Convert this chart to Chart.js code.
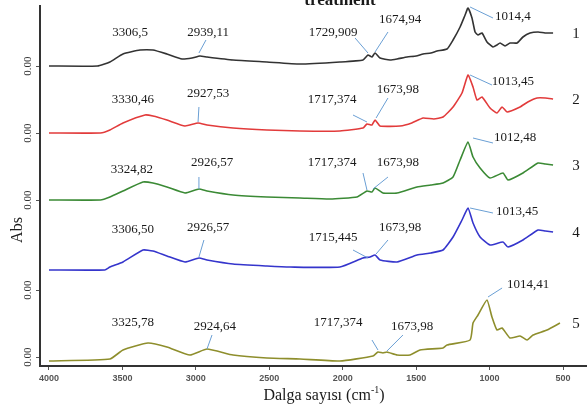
<!DOCTYPE html>
<html>
<head>
<meta charset="utf-8">
<script src="https://cdn.jsdelivr.net/npm/chart.js@4"></script>
<style>
  html, body { margin: 0; padding: 0; background: #fff; }
  canvas { display: block; }
</style>
</head>
<body>
<canvas id="ftirChart" width="587" height="405"></canvas>
<script>
// wavenumbers (cm-1) and absorbance above each trace's own baseline
const wn1 = [4000, 3670, 3585, 3496, 3380, 3292, 3197, 3094, 3026, 2972, 2924, 2747, 2516, 2291, 2019, 1862, 1828, 1801, 1780, 1746, 1678, 1630, 1562, 1500, 1453, 1400, 1358, 1290, 1249, 1201, 1167, 1147, 1120, 1099, 1079, 1052, 1018, 977, 950, 929, 895, 861, 813, 773, 725, 670, 623, 568];
const abs1 = [0, 0, 0.04, 0.12, 0.16, 0.16, 0.12, 0.07, 0.08, 0.10, 0.09, 0.06, 0.04, 0.02, 0.04, 0.06, 0.11, 0.09, 0.13, 0.08, 0.06, 0.07, 0.09, 0.10, 0.12, 0.13, 0.15, 0.17, 0.26, 0.39, 0.51, 0.58, 0.48, 0.34, 0.31, 0.33, 0.24, 0.19, 0.21, 0.23, 0.20, 0.23, 0.23, 0.29, 0.33, 0.34, 0.33, 0.33];

const wn2 = [4000, 3650, 3585, 3496, 3346, 3292, 3197, 3074, 2985, 2924, 2747, 2516, 2291, 2019, 1862, 1835, 1801, 1780, 1746, 1610, 1530, 1453, 1380, 1317, 1249, 1188, 1147, 1113, 1086, 1052, 997, 950, 915, 881, 793, 740, 677, 620, 568];
const abs2 = [0, 0, 0.03, 0.10, 0.18, 0.17, 0.13, 0.07, 0.10, 0.08, 0.05, 0.03, 0.02, 0.02, 0.05, 0.09, 0.08, 0.13, 0.07, 0.07, 0.10, 0.15, 0.14, 0.16, 0.26, 0.40, 0.58, 0.46, 0.33, 0.36, 0.25, 0.20, 0.26, 0.21, 0.26, 0.31, 0.35, 0.35, 0.34];

const wn3 = [4000, 3650, 3585, 3496, 3360, 3292, 3197, 3074, 2979, 2924, 2747, 2516, 2291, 2087, 1903, 1835, 1801, 1780, 1726, 1630, 1494, 1400, 1317, 1249, 1201, 1147, 1113, 1065, 997, 909, 875, 773, 670, 620, 568];
const abs3 = [0, 0, 0.03, 0.09, 0.18, 0.17, 0.13, 0.07, 0.11, 0.09, 0.05, 0.03, 0.02, 0.01, 0.03, 0.09, 0.08, 0.12, 0.07, 0.07, 0.13, 0.15, 0.17, 0.23, 0.40, 0.58, 0.43, 0.32, 0.22, 0.27, 0.20, 0.27, 0.37, 0.36, 0.35];

const wn4 = [4000, 3620, 3585, 3496, 3360, 3292, 3197, 3074, 2979, 2924, 2747, 2516, 2359, 2019, 1862, 1814, 1780, 1746, 1630, 1494, 1400, 1317, 1249, 1188, 1147, 1113, 1065, 997, 909, 875, 773, 670, 620, 568];
const abs4 = [0, 0, 0.03, 0.08, 0.20, 0.19, 0.14, 0.08, 0.12, 0.10, 0.06, 0.04, 0.03, 0.03, 0.12, 0.13, 0.15, 0.10, 0.08, 0.15, 0.17, 0.20, 0.33, 0.50, 0.62, 0.47, 0.33, 0.25, 0.28, 0.23, 0.30, 0.40, 0.39, 0.38];

const wn5 = [4000, 3585, 3496, 3326, 3197, 3040, 2924, 2747, 2516, 2291, 2019, 1794, 1760, 1726, 1699, 1630, 1542, 1474, 1317, 1290, 1133, 1113, 1079, 1018, 984, 950, 915, 861, 793, 745, 704, 609, 521];
const abs5 = [0, 0.02, 0.11, 0.18, 0.14, 0.06, 0.12, 0.06, 0.03, 0.02, 0, 0.05, 0.09, 0.08, 0.09, 0.06, 0.06, 0.11, 0.13, 0.16, 0.21, 0.38, 0.46, 0.61, 0.44, 0.31, 0.33, 0.23, 0.25, 0.21, 0.26, 0.31, 0.38];

const sampleNames = ['1', '2', '3', '4', '5'];
const xTicks = [4000, 3500, 3000, 2500, 2000, 1500, 1000, 500];
const yTickLabel = '0.00';

// peak labels: [text, label wn, label y, line from wn, y, line to wn, y]
const peakLabels = [
  ['3306,5', 3448, 3.33], ['2939,11', 2917, 3.33, 2931, 3.26, 2979, 3.13],
  ['1729,909', 2066, 3.33, 1916, 3.28, 1828, 3.13], ['1674,94', 1610, 3.46, 1692, 3.34, 1780, 3.14],
  ['1014,4', 841, 3.49, 1133, 3.59, 977, 3.48],
  ['3330,46', 3428, 2.66], ['2927,53', 2917, 2.72, 2979, 2.59, 2985, 2.44],
  ['1717,374', 2073, 2.66, 1930, 2.51, 1835, 2.44], ['1673,98', 1624, 2.76, 1692, 2.68, 1773, 2.48],
  ['1013,45', 841, 2.84, 1133, 2.91, 984, 2.81],
  ['3324,82', 3435, 1.96], ['2926,57', 2890, 2.03, 2979, 1.89, 2979, 1.77],
  ['1717,374', 2073, 2.03, 1862, 1.93, 1835, 1.76], ['1673,98', 1624, 2.03, 1692, 1.89, 1794, 1.77],
  ['1012,48', 827, 2.28, 1113, 2.28, 977, 2.23],
  ['3306,50', 3428, 1.36], ['2926,57', 2917, 1.38, 2945, 1.26, 2979, 1.09],
  ['1715,445', 2066, 1.28, 1930, 1.16, 1828, 1.08], ['1673,98', 1610, 1.38, 1692, 1.26, 1773, 1.12],
  ['1013,45', 813, 1.54, 1133, 1.58, 977, 1.53],
  ['3325,78', 3428, 0.43], ['2924,64', 2870, 0.39, 2890, 0.31, 2924, 0.17],
  ['1717,374', 2032, 0.43, 1801, 0.26, 1760, 0.16], ['1673,98', 1528, 0.39, 1590, 0.31, 1699, 0.15],
  ['1014,41', 738, 0.81, 915, 0.78, 1011, 0.69],
];

// vertical stacking of the traces
const offsets = [3.00, 2.33, 1.66, 0.96, 0.05];
const yTicks = [3.00, 2.33, 1.66, 0.76, 0.09];
const colors = ['#333333', '#e23b3b', '#3b8a35', '#3535cc', '#8e8e2c'];

const series = [[wn1, abs1], [wn2, abs2], [wn3, abs3], [wn4, abs4], [wn5, abs5]];

const serif = '"Liberation Serif", "Times New Roman", serif';

const annotate = {
  id: 'annotate',
  afterDraw(chart) {
    const { ctx, scales: { x, y }, chartArea } = chart;
    ctx.save();
    // y tick labels
    ctx.fillStyle = '#333';
    ctx.font = '11px ' + serif;
    ctx.textAlign = 'center';
    ctx.textBaseline = 'middle';
    yTicks.forEach(v => {
      ctx.save();
      ctx.translate(28, y.getPixelForValue(v));
      ctx.rotate(-Math.PI / 2);
      ctx.fillText(yTickLabel, 0, 0);
      ctx.restore();
    });
    // leader lines
    ctx.strokeStyle = '#6a9fd4';
    ctx.lineWidth = 1;
    peakLabels.forEach(p => {
      if (p.length < 7) return;
      ctx.beginPath();
      ctx.moveTo(x.getPixelForValue(p[3]), y.getPixelForValue(p[4]));
      ctx.lineTo(x.getPixelForValue(p[5]), y.getPixelForValue(p[6]));
      ctx.stroke();
    });
    // peak texts
    ctx.fillStyle = '#1a1a1a';
    ctx.font = '13px ' + serif;
    peakLabels.forEach(p => {
      ctx.fillText(p[0], x.getPixelForValue(p[1]), y.getPixelForValue(p[2]));
    });
    // sample numbers
    ctx.font = '15px ' + serif;
    sampleNames.forEach((n, i) => {
      const last = series[i][1][series[i][1].length - 1];
      ctx.fillText(n, chartArea.right - 11, y.getPixelForValue(offsets[i] + last) + 1);
    });
    // axis titles
    ctx.font = '16px ' + serif;
    ctx.save();
    ctx.translate(18, 230);
    ctx.rotate(-Math.PI / 2);
    ctx.fillText('Abs', 0, 0);
    ctx.restore();
    const main = 'Dalga sayısı (cm';
    ctx.font = '16px ' + serif;
    const w1 = ctx.measureText(main).width;
    ctx.font = '10px ' + serif;
    const w2 = ctx.measureText('-1').width;
    ctx.font = '16px ' + serif;
    const w3 = ctx.measureText(')').width;
    let sx = 324 - (w1 + w2 + w3) / 2;
    ctx.textAlign = 'left';
    ctx.textBaseline = 'alphabetic';
    ctx.fillText(main, sx, 400);
    ctx.font = '10px ' + serif;
    ctx.fillText('-1', sx + w1, 393);
    ctx.font = '16px ' + serif;
    ctx.fillText(')', sx + w1 + w2, 400);
    // title cut by the top edge
    ctx.font = 'bold 17px ' + serif;
    ctx.textAlign = 'center';
    ctx.fillText('treatment', 340, 5);
    ctx.restore();
  }
};

new Chart(document.getElementById('ftirChart'), {
  type: 'line',
  data: {
    datasets: series.map(([wn, abs], i) => ({
      label: sampleNames[i],
      data: wn.map((w, k) => ({ x: w, y: abs[k] + offsets[i] })),
      borderColor: colors[i],
      borderWidth: 1.6,
      pointRadius: 0,
      tension: 0.15,
      fill: false,
    })),
  },
  options: {
    responsive: false,
    animation: false,
    layout: { padding: { left: 0, right: 0, top: 6, bottom: 0 } },
    plugins: { legend: { display: false }, tooltip: { enabled: false } },
    scales: {
      x: {
        type: 'linear',
        reverse: true,
        min: 337,
        max: 4061,
        afterBuildTicks: s => { s.ticks = xTicks.map(v => ({ value: v })); },
        afterFit: s => { s.height = 39; },
        ticks: {
          color: '#555',
          font: { family: '"Liberation Sans", Arial, sans-serif', size: 9, weight: 'bold' },
          maxRotation: 0,
          padding: 3,
          callback: v => String(v),
        },
        grid: { drawOnChartArea: false, tickLength: 4, color: '#555' },
        border: { color: '#333', width: 2 },
      },
      y: {
        min: 0,
        max: 3.6,
        afterBuildTicks: s => { s.ticks = yTicks.map(v => ({ value: v })); },
        afterFit: s => { s.width = 40; },
        ticks: { display: false },
        grid: { drawOnChartArea: false, tickLength: 4, color: '#555' },
        border: { color: '#333', width: 2 },
      },
    },
  },
  plugins: [annotate],
});
</script>
</body>
</html>
